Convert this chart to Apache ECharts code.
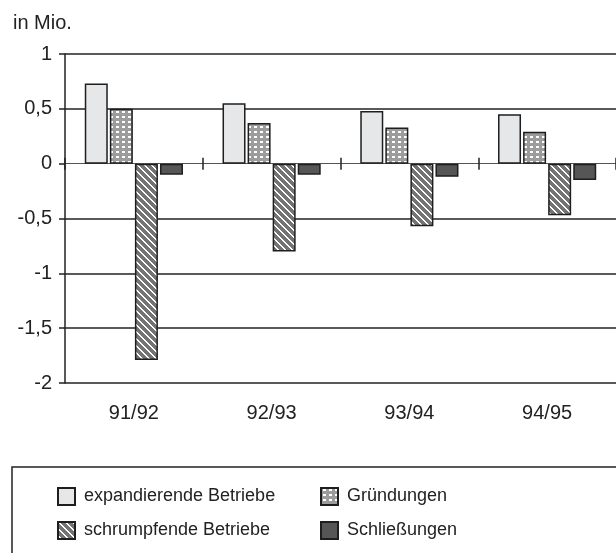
<!DOCTYPE html>
<html>
<head>
<meta charset="utf-8">
<script src="https://cdn.jsdelivr.net/npm/echarts@6/dist/echarts.min.js"></script>
<style>html,body{margin:0;padding:0;background:#fff;}#c{width:616px;height:553px;}</style>
</head>
<body>
<div id="c"></div>
<script>
var categories = ['91/92', '92/93', '93/94', '94/95'];
var expandierende = [0.73, 0.55, 0.48, 0.45];
var gruendungen = [0.50, 0.37, 0.33, 0.29];
var schrumpfende = [-1.79, -0.80, -0.57, -0.47];
var schliessungen = [-0.10, -0.10, -0.12, -0.15];
var seriesNames = ['expandierende Betriebe', 'Gründungen', 'schrumpfende Betriebe', 'Schließungen'];
var yTicks = { min: -2, max: 1, interval: 0.5 };

function dotPattern() {
  var c = document.createElement('canvas');
  c.width = 6; c.height = 5;
  var g = c.getContext('2d');
  g.fillStyle = '#9c9c9c'; g.fillRect(0, 0, 6, 5);
  g.fillStyle = '#ffffff'; g.fillRect(2, 1, 3, 2);
  return c;
}
function stripePattern() {
  var s = 7;
  var c = document.createElement('canvas');
  c.width = s; c.height = s;
  var g = c.getContext('2d');
  for (var y = 0; y < s; y++) {
    for (var x = 0; x < s; x++) {
      g.fillStyle = (((x - y) % s + s) % s) < 2 ? '#ffffff' : '#747474';
      g.fillRect(x, y, 1, 1);
    }
  }
  return c;
}

var border = { borderColor: '#1e1e1e', borderWidth: 1.5 };
var styles = [
  Object.assign({ color: '#e6e7e8' }, border),
  Object.assign({ color: { image: dotPattern(), repeat: 'repeat' } }, border),
  Object.assign({ color: { image: stripePattern(), repeat: 'repeat' } }, border),
  Object.assign({ color: '#565656' }, border)
];
var values = [expandierende, gruendungen, schrumpfende, schliessungen];

var chart = echarts.init(document.getElementById('c'), null, { renderer: 'canvas' });
var font = 'Liberation Sans, Arial, sans-serif';
var gridColors = ['#222', '#222', '#222', '#222', 'rgba(0,0,0,0)', '#222', '#222'];

var legendCommon = {
  orient: 'vertical', top: 487, itemWidth: 17, itemHeight: 17, itemGap: 15, padding: 0,
  icon: 'rect', selectedMode: false,
  textStyle: { fontSize: 18, color: '#222', fontFamily: font, padding: [0, 0, 0, 4] }
};

chart.setOption({
  animation: false,
  backgroundColor: '#fff',
  grid: { left: 65, top: 54, width: 556, height: 329, containLabel: false },
  legend: [
    Object.assign({ left: 57, data: [seriesNames[0], seriesNames[2]] }, legendCommon),
    Object.assign({ left: 320, data: [seriesNames[1], seriesNames[3]] }, legendCommon)
  ],
  graphic: [
    { type: 'rect', shape: { x: 12, y: 467, width: 700, height: 200 },
      style: { fill: 'none', stroke: '#222', lineWidth: 1.5 }, z: 0 },
    { type: 'text', x: 13, y: 13,
      style: { text: 'in Mio.', fill: '#222', font: '20px ' + font } }
  ],
  xAxis: [
    { type: 'category', data: categories, position: 'bottom',
      axisLine: { show: false, onZero: false }, axisTick: { show: false },
      axisLabel: { fontSize: 20, color: '#222', fontFamily: font, margin: 20 } },
    { type: 'category', data: categories, position: 'bottom',
      axisLine: { show: true, onZero: true, onZeroAxisIndex: 0, lineStyle: { color: '#555', width: 1 } },
      axisTick: { show: true, length: 6, lineStyle: { color: '#222', width: 1.5 } },
      axisLabel: { show: false } },
    { type: 'category', data: categories, position: 'bottom',
      axisLine: { show: false, onZero: true, onZeroAxisIndex: 0 },
      axisTick: { show: true, inside: true, length: 6, lineStyle: { color: '#222', width: 1.5 } },
      axisLabel: { show: false } }
  ],
  yAxis: [{
    type: 'value', min: yTicks.min, max: yTicks.max, interval: yTicks.interval,
    axisLine: { show: true, lineStyle: { color: '#222', width: 1.5 } },
    axisTick: { show: true, length: 6, lineStyle: { color: '#222', width: 1.5 } },
    axisLabel: { fontSize: 20, color: '#222', fontFamily: font, margin: 13,
      formatter: function (v) { return String(v).replace('.', ','); } },
    splitLine: { show: true, lineStyle: { color: gridColors, width: 1.5 } }
  }],
  series: values.map(function (d, i) {
    return { name: seriesNames[i], type: 'bar', data: d, xAxisIndex: 0, yAxisIndex: 0,
      barWidth: 23, barGap: '9%', itemStyle: styles[i] };
  })
});
</script>
</body>
</html>
